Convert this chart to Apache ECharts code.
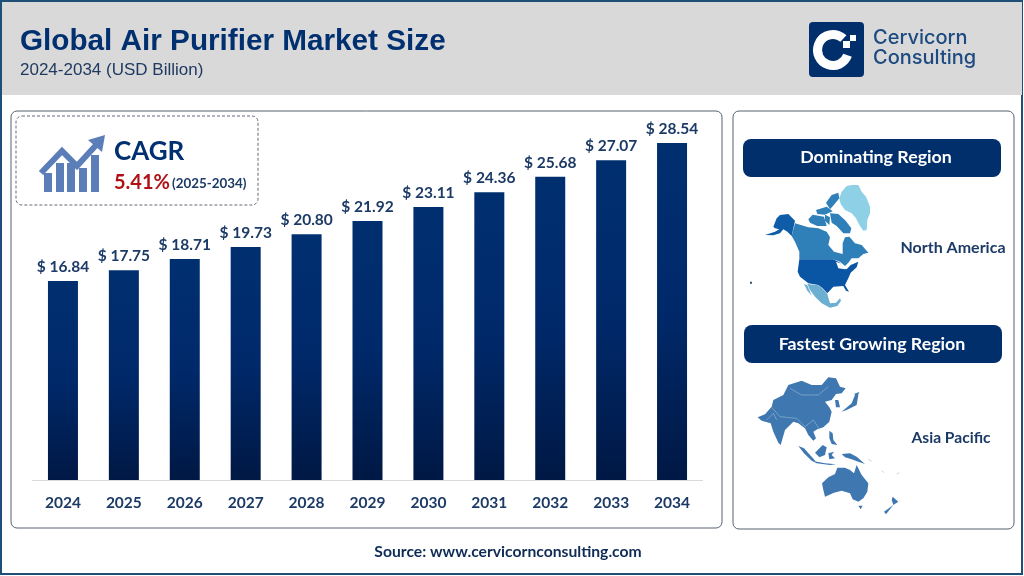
<!DOCTYPE html>
<html><head><meta charset="utf-8">
<style>html,body{margin:0;padding:0;background:#fff}#c{width:1024px;height:576px}</style>
<script src="https://cdn.jsdelivr.net/npm/echarts@6/dist/echarts.min.js"></script>
</head><body><div id="c"></div>
<script>
const years = ['2024','2025','2026','2027','2028','2029','2030','2031','2032','2033','2034'];
const marketSize = [16.84,17.75,18.71,19.73,20.80,21.92,23.11,24.36,25.68,27.07,28.54];
const NAVY='#002f6c', TEXT='#1c3a66';
const F='Lato, "Open Sans", sans-serif', A='"Liberation Sans", Arial, sans-serif';

const poly=(points,fill)=>({type:'polygon',shape:{points},style:{fill}});
const line=(points,stroke,w)=>({type:'polyline',shape:{points},style:{stroke,lineWidth:w,fill:null}});
const txt=(text,x,y,font,fill,align)=>({type:'text',style:{text,x,y,font,fill,textAlign:align||'left',textVerticalAlign:'middle'}});
const rrect=(x,y,w,h,r,style)=>({type:'rect',shape:{x,y,width:w,height:h,r},style});

/* decorative region silhouettes (3x crop space) */
const C1='#2f7fb8', US='#0a56a5';
const naMap=[
 poly([[328,205],[335,185],[350,168],[365,165],[385,165],[395,185],[408,200],[420,230],[420,250],[412,270],[410,300],[400,302],[388,285],[378,265],[365,250],[345,240],[332,222]],'#8ed1e6'),
 poly([[195,280],[235,292],[265,295],[290,305],[300,322],[295,345],[312,365],[338,372],[338,340],[345,322],[358,320],[375,340],[395,345],[415,368],[400,372],[385,385],[365,385],[355,398],[345,408],[330,395],[310,388],[208,388],[208,365],[195,335],[185,318]],C1),
 poly([[130,290],[140,265],[150,255],[175,252],[195,272],[190,295],[185,318],[172,305],[160,298],[150,310],[130,316],[105,315],[135,305],[148,298],[135,295]],'#0f5ca8'),
 poly([[288,218],[305,195],[325,188],[328,205],[312,224],[300,238]],C1),
 poly([[258,240],[290,230],[308,244],[284,254],[262,252]],C1),
 poly([[235,268],[248,254],[282,260],[290,288],[262,288],[240,278]],C1),
 poly([[300,250],[325,252],[347,272],[364,295],[360,310],[340,310],[320,288],[305,278]],C1),
 poly([[285,254],[300,262],[298,285],[285,272]],C1),
 poly([[208,388],[310,388],[330,398],[335,412],[350,418],[362,405],[385,395],[380,412],[362,428],[355,445],[345,465],[357,485],[348,482],[340,468],[310,470],[292,490],[278,475],[265,465],[235,460],[210,440],[203,425]],US),
 poly([[318,395],[330,400],[340,414],[355,410],[345,418],[325,415]],'#ffffff'),
 poly([[232,462],[265,466],[278,476],[292,492],[300,520],[318,518],[330,505],[333,512],[322,528],[300,533],[275,520],[255,500],[240,480]],'#6cafd0'),
 poly([[222,462],[232,466],[245,497],[232,482]],'#6cafd0'),
 poly([[60,455],[66,455],[66,461],[60,461]],'#34526e')
];
const B='#3f78b0';
const apMap=[
 poly([[83,292],[105,283],[125,260],[130,240],[160,225],[175,195],[215,182],[245,195],[275,195],[295,172],[318,175],[330,200],[347,205],[335,220],[318,222],[305,240],[285,245],[298,262],[305,275],[298,305],[280,322],[262,328],[250,335],[258,355],[250,362],[235,345],[225,325],[205,310],[190,305],[165,330],[152,375],[145,368],[130,335],[122,310],[95,302]],B),
 poly([[335,275],[365,250],[375,225],[385,225],[380,255],[350,270]],B),
 poly([[372,222],[388,216],[382,230]],B),
 poly([[315,240],[325,240],[330,262],[318,262]],B),
 poly([[298,332],[308,340],[310,360],[322,375],[305,372],[298,355]],B),
 poly([[205,378],[222,385],[245,410],[258,425],[245,422],[222,400]],B),
 poly([[245,422],[285,430],[318,433],[300,435],[260,430]],B),
 poly([[255,398],[278,375],[290,382],[285,405],[268,412]],B),
 poly([[295,400],[312,395],[305,405],[315,415],[298,418]],B),
 poly([[335,402],[360,400],[380,410],[405,432],[385,425],[365,418],[345,412]],B),
 poly([[276,490],[295,472],[315,462],[322,443],[345,443],[360,450],[372,460],[380,435],[395,465],[415,490],[412,515],[400,535],[385,545],[368,538],[360,520],[335,512],[312,518],[285,530],[280,510]],B),
 poly([[385,557],[398,557],[392,568]],B),
 poly([[488,530],[505,545],[490,555],[485,540]],B),
 poly([[490,555],[468,583],[462,575]],B),
 line([[180,205],[215,225],[265,225],[295,200]],'#a9c4de',1.5),
 line([[125,262],[150,290],[200,295],[225,320]],'#a9c4de',1.5),
 line([[110,300],[130,280],[140,300]],'#a9c4de',1.5),
 line([[225,320],[250,300],[270,330]],'#a9c4de',1.5),
 line([[415,418],[425,424]],'#c5d6e6',3),
 line([[455,452],[462,458]],'#c5d6e6',3),
 line([[500,462],[508,458]],'#c5d6e6',3)
];

const graphic=[
 rrect(1,1,1021,573,0,{fill:'#fff',stroke:'#1f4e79',lineWidth:2}),
 {type:'rect',shape:{x:2,y:2,width:1020,height:93},style:{fill:'#d9d9d9'}},
 txt('Global Air Purifier Market Size',20,42,'bold 29.7px '+A,'#003070'),
 txt('2024-2034 (USD Billion)',20,70,'17px '+A,'#1f3a60'),
 /* logo */
 rrect(809,22,55,55,4,{fill:'#002f6c'}),
 {type:'arc',shape:{cx:833,cy:50,r:15.5,startAngle:0.35,endAngle:5.45,clockwise:true},style:{stroke:'#fff',lineWidth:9,fill:null}},
 {type:'rect',shape:{x:850,y:35,width:6,height:6},style:{fill:'#fff'}},
 {type:'rect',shape:{x:843,y:41,width:7,height:7},style:{fill:'#fff'}},
 txt('Cervicorn',873,38,'500 20px Inter, sans-serif','#1d4a80'),
 txt('Consulting',873,58,'500 20px Inter, sans-serif','#1d4a80'),
 /* panels */
 rrect(11,111,711,417,6,{fill:'#fff',stroke:'#59636e',lineWidth:1}),
 rrect(733,111,281,418,6,{fill:'#fff',stroke:'#59636e',lineWidth:1}),
 /* CAGR box */
 rrect(16,116,242,89,6,{fill:'#fff',stroke:'#667',lineWidth:1,lineDash:[3,2]}),
 ...[[44,173,8,19],[56,163,8,29],[67,163,8,29],[79,168,8,24],[91,155,8,37]].map(b=>({type:'rect',shape:{x:b[0],y:b[1],width:b[2],height:b[3]},style:{fill:'#5b7db8'}})),
 line([[41,173],[62,151],[77,166],[98,143]],'#5b7db8',6),
 poly([[88,140],[105,135],[102,152]],'#5b7db8'),
 txt('CAGR',114,152,'bold 26px '+F,'#003070'),
 txt('5.41%',114,183,'bold 20px '+F,'#b01116'),
 txt('(2025-2034)',172,184,'bold 13.4px '+F,TEXT),
 /* right side */
 rrect(743,139,258,38,8,{fill:NAVY}),
 txt('Dominating Region',876,157,'bold 17.8px '+F,'#fff','center'),
 {type:'group',x:730,y:130,scaleX:1/3,scaleY:1/3,children:naMap},
 txt('North America',953,248,'bold 16px '+F,TEXT,'center'),
 rrect(744,325,258,38,8,{fill:NAVY}),
 txt('Fastest Growing Region',872,344,'bold 17.8px '+F,'#fff','center'),
 {type:'group',x:730,y:320,scaleX:1/3,scaleY:1/3,children:apMap},
 txt('Asia Pacific',951,438,'bold 15.6px '+F,TEXT,'center'),
 txt('Source: www.cervicornconsulting.com',508,552,'bold 15.7px '+F,'#0f2c56','center')
];

const chart=echarts.init(document.getElementById('c'),null,{renderer:'canvas'});
chart.setOption({
 animation:false,
 backgroundColor:'#fff',
 graphic:{elements:graphic},
 grid:{left:32.5,right:321.5,top:125.7,bottom:96,containLabel:false},
 xAxis:{type:'category',data:years,
  axisLine:{lineStyle:{color:'#d9d9d9',width:1}},axisTick:{show:false},
  axisLabel:{color:TEXT,fontFamily:'Lato',fontWeight:'bold',fontSize:15.5,margin:15}},
 yAxis:{type:'value',min:0,max:30,show:false,splitLine:{show:false}},
 series:[{type:'bar',data:marketSize,barWidth:30,
  itemStyle:{color:new echarts.graphic.LinearGradient(0,0,0,1,[{offset:0,color:'#002f70'},{offset:0.5,color:'#00296a'},{offset:1,color:'#001844'}])},
  label:{show:true,position:'top',distance:6,formatter:p=>'$ '+p.value.toFixed(2),
   color:TEXT,fontFamily:'Lato',fontWeight:'bold',fontSize:15.5}}]
});
</script></body></html>
